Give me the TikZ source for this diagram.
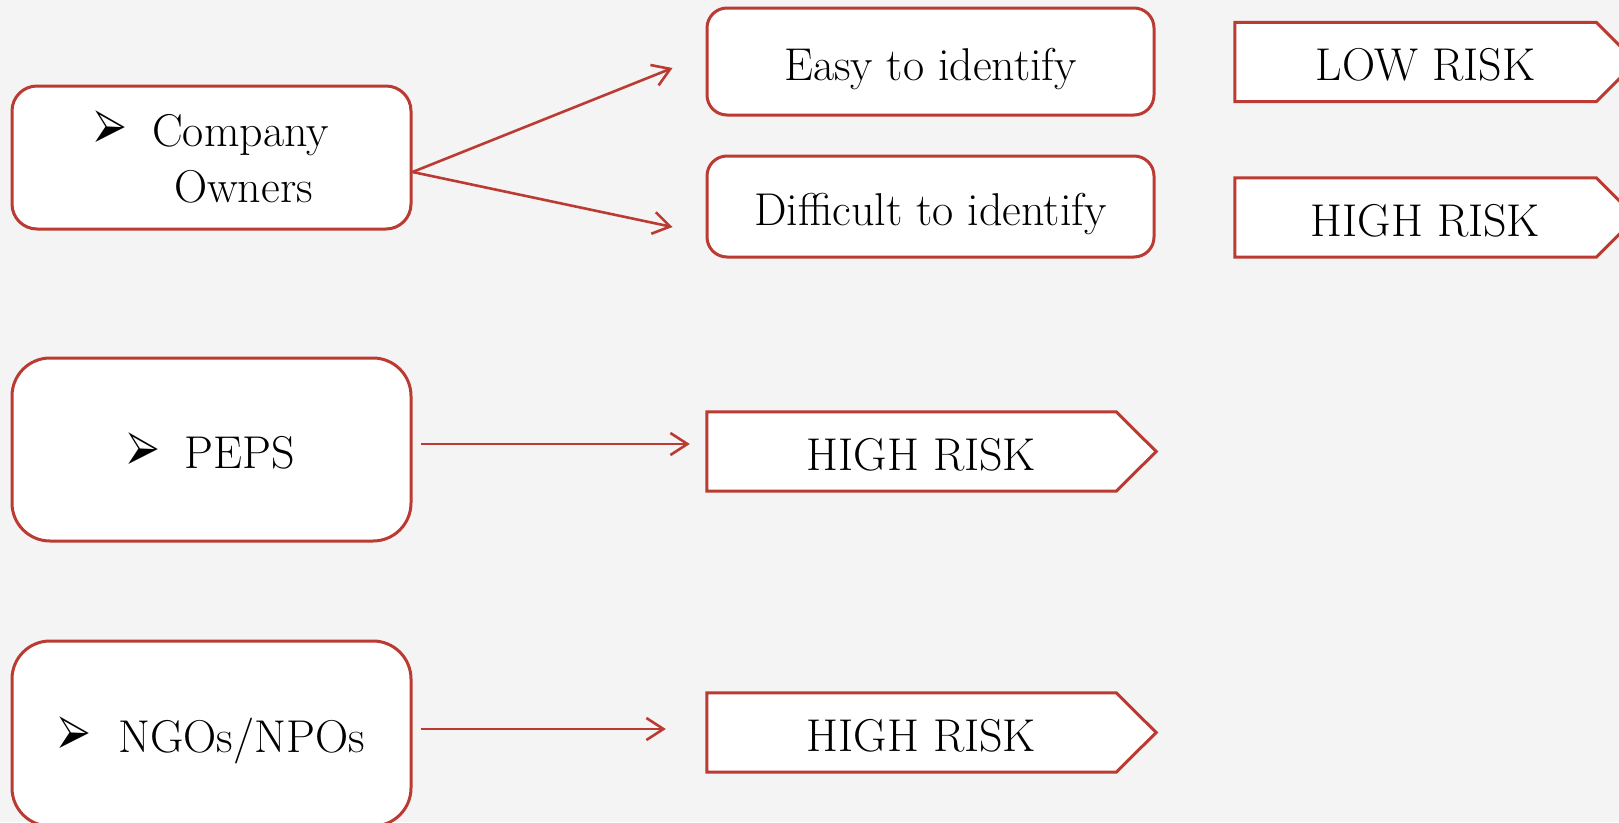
\documentclass[tikz,border=0pt]{standalone}
\usepackage{pifont}
\usepackage{graphicx}
\usetikzlibrary{arrows.meta,calc,backgrounds}
\definecolor{bord}{RGB}{187,58,50}
\definecolor{paper}{RGB}{244,244,244}
\newcommand{\bul}{\raisebox{-1pt}{\resizebox*{32pt}{36pt}{\ding{226}}}}
\newcommand{\pent}[1]{\draw[pentline] (#1.north west) -- ([xshift=-20pt]#1.north east) -- ([xshift=20pt]#1.east) -- ([xshift=-20pt]#1.south east) -- (#1.south west) -- cycle;}
\begin{document}
\begin{tikzpicture}[x=1pt,y=-1pt,
  txt/.style={font=\fontsize{46}{56}\selectfont, text=black, inner sep=0pt},
  one/.style={text height=37pt, text depth=0pt},
  rbox/.style={txt, draw=bord, line width=3pt, fill=white, rounded corners=#1, align=center},
  rbox/.default=20pt,
  riskbody/.style={txt, one, minimum height=79pt},
  pentline/.style={draw=bord, line width=3pt, fill=white, line join=miter},
  conn/.style={draw=bord, line width=2.6pt, -{Straight Barb[length=17pt,width=22pt]}}
]
\useasboundingbox (0,0) rectangle (1619,822);
\clip (0,0) rectangle (1619,822);
\node[rbox=25pt, minimum width=399pt, minimum height=143pt] (co) at (211.5,157.5) {\bul\hspace{26pt}Company\\\hspace*{64pt}Owners};
\node[rbox=38pt, one, minimum width=399pt, minimum height=183pt] (peps) at (211.5,449.5) {\bul\hspace{25pt}PEPS};
\node[rbox=38pt, one, minimum width=399pt, minimum height=185pt] (ngo) at (211.5,733.5) {\bul\hspace{28pt}NGOs/NPOs};
\node[rbox=20pt, one, minimum width=447pt, minimum height=107pt] (easy) at (930.5,61.5) {Easy to identify};
\node[rbox=20pt, one, minimum width=447pt, minimum height=101pt] (diff) at (930.5,206.5) {Difficult to identify};
\node[riskbody, minimum width=381pt] (low) at (1425.5,62) {LOW RISK};
\node[riskbody, minimum width=381pt] (high1) at (1425.5,217.5) {HIGH RISK};
\node[riskbody, minimum width=429pt] (high2) at (921.5,451.5) {HIGH RISK};
\node[riskbody, minimum width=429pt] (high3) at (921.5,732.5) {HIGH RISK};
\begin{scope}[on background layer]
\clip (0,0) rectangle (1619,822);
\fill[paper] (0,0) rectangle (1619,822);
\pent{low}\pent{high1}\pent{high2}\pent{high3}
\end{scope}
\draw[conn] ([yshift=-14.5pt]co.east) -- ($(easy.west)+(-33,6.5)$);
\draw[conn] ([yshift=-14.5pt]co.east) -- ($(diff.west)+(-33,20.5)$);
\draw[conn] ([xshift=8pt,yshift=5.5pt]peps.east) -- ($(high2.west)+(-17,-7.5)$);
\draw[conn] ([xshift=8pt,yshift=4.5pt]ngo.east) -- ($(high3.west)+(-41,-3.5)$);
\end{tikzpicture}
\end{document}
